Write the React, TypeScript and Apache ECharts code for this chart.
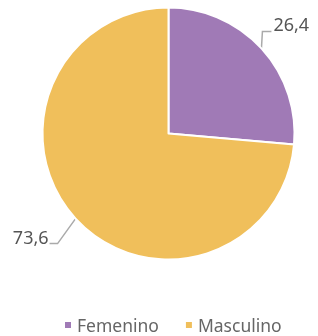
import React, { useEffect, useRef } from "react";
import * as echarts from "echarts";

const categories = ["Femenino", "Masculino"];
const values = [26.4, 73.6];
const colors = ["#A07AB6", "#F0BF5B"];

export default function App() {
  const ref = useRef<HTMLDivElement>(null);
  useEffect(() => {
    if (!ref.current) return;
    const chart = echarts.init(ref.current, undefined, { renderer: "svg" });
    chart.setOption({
      animation: false,
      color: colors,
      legend: {
        bottom: -3,
        left: 58,
        itemWidth: 8,
        itemHeight: 8,
        itemGap: 25,
        icon: "rect",
        textStyle: { color: "#666", fontSize: 17.5, fontFamily: "Noto Sans" },
        data: categories,
      },
      series: [
        {
          type: "pie",
          center: [168.5, 133.5],
          radius: 126,
          startAngle: 90,
          clockwise: true,
          itemStyle: { borderColor: "#fff", borderWidth: 2 },
          label: {
            show: true,
            overflow: "none",
            formatter: (p: any) => String(p.value).replace(".", ","),
            color: "#555",
            fontSize: 18,
            fontFamily: "Noto Sans",
          },
          labelLine: {
            show: true,
            length: 16,
            length2: 10,
            lineStyle: { color: "#aaa", width: 1.5 },
          },
          labelLayout: (p: any) => {
            const pts = p.labelLinePoints;
            if (!pts) return {};
            const a = pts[0];
            if (p.dataIndex === 0) {
              const p1 = [a[0] + 1, a[1] - 17];
              const p2 = [p1[0] + 9, p1[1]];
              return {
                x: p2[0] + 2,
                y: p1[1] + 2,
                align: "left",
                verticalAlign: "bottom",
                labelLinePoints: [a, p1, p2],
              };
            }
            const p1 = [a[0] - 18, a[1] + 25];
            const p2 = [p1[0] - 8, p1[1]];
            return {
              x: p2[0] - 1,
              y: p1[1] + 2,
              align: "right",
              verticalAlign: "bottom",
              labelLinePoints: [a, p1, p2],
            };
          },
          data: categories.map((c, i) => ({ name: c, value: values[i] })),
        },
      ],
    });
    return () => chart.dispose();
  }, []);
  return (
    <div
      ref={ref}
      style={{ position: "fixed", left: 0, top: 0, width: 318, height: 336 }}
    />
  );
}
